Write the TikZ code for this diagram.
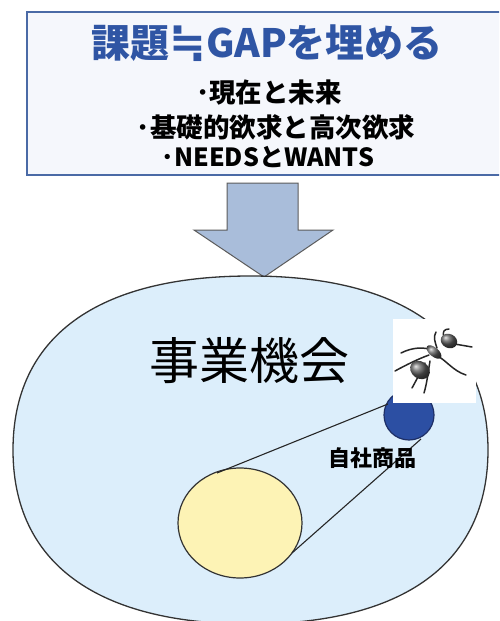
\documentclass[tikz,border=0pt]{standalone}
\usepackage{fontspec}
\newfontfamily\jp{Noto Sans CJK JP}
\newfontfamily\symf{DejaVu Sans}
\usetikzlibrary{shapes.geometric}
\definecolor{boxline}{HTML}{4A6AA6}
\definecolor{boxfill}{HTML}{F5F7FC}
\definecolor{titleblue}{HTML}{2F55A4}
\definecolor{arrowfill}{HTML}{A9BDDA}
\definecolor{fieldfill}{HTML}{DCEEFB}
\definecolor{sunfill}{HTML}{FDF3B5}
\definecolor{dotblue}{HTML}{2C4FA3}
\definecolor{dotline}{HTML}{1E2F66}
\definecolor{edge}{HTML}{333333}
\tikzset{
  titlebox/.style={draw=boxline, line width=1.5pt, fill=boxfill},
  bigarrow/.style={draw=edge!80, line width=1pt, fill=arrowfill},
  field/.style={draw=edge, line width=1.3pt, fill=fieldfill},
  txt/.style={inner sep=0pt, font=\jp},
  tangent/.style={draw=black!85, line width=1.1pt},
  antleg/.style={draw=black!85, line width=1.5pt, line cap=round, line join=round},
  antbody/.style={ball color=black!65},
}
\begin{document}
\begin{tikzpicture}[x=1pt, y=-1pt]
\useasboundingbox (0,0) rectangle (499,621);
\clip (0,0) rectangle (499,621);
\fill[white] (0,0) rectangle (499,621);

% heading panel
\draw[titlebox] (27,12) rectangle (510,175);
\node[txt, text=titleblue, font=\jp\bfseries\fontsize{39}{42}\selectfont] (title) at (267,43)
  {課題{\symf\bfseries\fontsize{44}{44}\selectfont ≒}GAPを埋める};
\node[txt, font=\jp\bfseries\fontsize{26.5}{29}\selectfont] (l1) at (269,93) {･現在と未来};
\node[txt, font=\jp\bfseries\fontsize{26.5}{29}\selectfont] (l2) at (276,127) {･基礎的欲求と高次欲求};
\node[txt, font=\jp\bfseries\fontsize{25}{28}\selectfont] (l3) at (268,157) {･NEEDSとWANTS};

% downward block arrow
\draw[bigarrow] (227,183) -- (298,183) -- (298,230) -- (333,230) -- (264,277)
  -- (194,230) -- (227,230) -- cycle;

% business field (flattened oval)
\draw[field] (488,450)
  .. controls (488,337) and (404,276) .. (250.5,276)
  .. controls (97,276) and (13,337) .. (13,450)
  .. controls (13,563) and (97,624) .. (250.5,624)
  .. controls (404,624) and (488,563) .. (488,450) -- cycle;

\node[txt, font=\jp\fontsize{50}{54}\selectfont] (biz) at (249,361) {事業機会};

% own product and its magnified view
\node[circle, minimum size=50pt, inner sep=0pt, fill=dotblue, draw=dotline, line width=1.2pt] (own) at (409,415) {};
\node[ellipse, minimum width=124pt, minimum height=110pt, inner sep=0pt, fill=sunfill, draw=edge, line width=1.2pt] (zoomed) at (240,523) {};
\coordinate (t1) at (217,473);
\coordinate (t2) at (292,553);
\coordinate (u1) at (388,404);
\coordinate (u2) at (421,439);
\draw[tangent] (t1) -- (u1);
\draw[tangent] (t2) -- (u2);

% ant picture
\fill[white] (393,319) rectangle (476,403);
\begin{scope}
  % legs and antennae
  \draw[antleg] (432,350) .. controls (424,347) and (413,347) .. (401,353);
  \draw[antleg] (429,355) .. controls (418,359) and (406,365) .. (395,371);
  \draw[antleg] (425,363) .. controls (421,371) and (417,379) .. (412,388);
  \draw[antleg] (430,361) .. controls (428,373) and (427,383) .. (424,393);
  \draw[antleg] (436,355) .. controls (446,360) and (453,371) .. (466,375);
  \draw[antleg] (437,348) .. controls (435,342) and (433,337) .. (436,332);
  \draw[antleg] (454,344) .. controls (461,345) and (466,346) .. (472,347);
  \draw[antleg] (444,337) .. controls (442,332) and (444,329) .. (449,329);
  % body
  \shade[antbody, rotate around={-35:(420,370)}] (420,370) ellipse (10.5pt and 8.5pt);
  \shade[antbody, rotate around={-40:(434,352)}] (434,352) ellipse (9pt and 4.5pt);
  \shade[antbody, rotate around={-25:(449,341)}] (449,341) ellipse (8.5pt and 7pt);
\end{scope}

\node[txt, font=\jp\bfseries\fontsize{22}{24}\selectfont] (ownlabel) at (372,458) {自社商品};
\end{tikzpicture}
\end{document}
